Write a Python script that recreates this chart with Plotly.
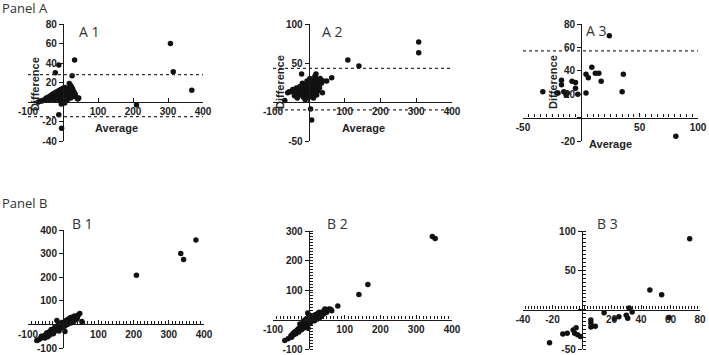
import plotly.graph_objects as go

W, H = 709, 355

# ---------------- data ----------------
a1_x = [-70, -65, -60, -55, -50, -48, -45, -42, -40, -38, -35, -33, -30, -30, -28, -25, -25, -22,
        -20, -20, -18, -15, -15, -12, -10, -10, -8, -6, -5, -5, -3, 0, 0, 0, 2, 3, 5, 5, 7, 8, 10,
        10, 12, 13, 15, 15, 17, 18, 20, 22, 22, 25, 25, 28, 30, 32, 35, 38, 42, 45, -5, 5,
        -12, -22, 33, 26, 210, 307, 315, 368, -12, -4]
a1_y = [0, 1, 1, 2, 2, 4, 3, 5, 2, 6, 4, 7, 3, 8, 5, 9, 2, 6,
        10, 3, 7, 11, 4, 8, 12, 2, 6, 10, 13, 3, 8, 14, 5, 1, 11, 7, 15, 3, 9, 12, 6,
        14, 2, 10, 13, 5, 8, 19, 11, 17, 4, 15, 8, 13, 6, 10, 8, 5, 3, 4, -2, -1,
        38, 30, 43, 27, -3, 60, 31, 12, -13, -27]
a1_limits = [28, -15]

a2_x = [-67, -59, -55, -50, -45, -40, -38, -35, -32, -30, -28, -25, -22, -20, -18, -15, -15, -12,
        -10, -10, -8, -5, -5, -3, 0, 0, 2, 3, 5, 5, 7, 8, 10, 10, 12, 13, 15, 15, 17, 18, 20, 22,
        23, 25, 28, 30, 32, 35, 38, 40, 50, 64, -20, 20,
        109, 140, 307, 307, 5, 8]
a2_y = [2, 12, 13, 13, 16, 8, 13, 18, 5, 11, 15, 20, 9, 14, 24, 6, 18, 12,
        22, 3, 16, 27, 10, 19, 14, 6, 24, 30, 11, 18, 8, 22, 14, 28, 19, 5, 25, 12, 33, 17, 30, 9,
        22, 14, 26, 18, 30, 24, 12, 27, 27, 31, 36, 36,
        54, 46, 77, 63, -9, -23]
a2_limits = [43, -10]

a3_x = [-33, -21, -20, -17, -17, -15, -13, -12, -8, -5, -5, -3, 4, 4, 6, 9, 12, 15, 17, 24, 35, 36, 81]
a3_y = [22, 21, 21, 32, 28, 22, 19, 21, 31, 30, 25, 20, 21, 37, 34, 43, 38, 38, 31, 70, 22, 37, -16]
a3_limits = [57]

b1_x = [-75, -70, -65, -60, -58, -55, -50, -48, -45, -42, -40, -38, -35, -32, -30, -28, -25, -22,
        -20, -18, -15, -12, -10, -8, -5, -3, 0, 2, 5, 8, 10, 12, 15, 18, 20, 22, 25, 28, 30, 33,
        35, 38, 40, 43, 47, -18, 53, 5, -12, 208, 334, 342, 377,
        -62, -52, -46, -38, -34, -26, -24, -16, -14, -6, -4, 4, 6, 12, 14, 22, 24, 30, 32, 38,
        40, 20, -28, -44, 10, 26]
b1_y = [-68, -65, -60, -55, -50, -52, -45, -40, -42, -38, -35, -30, -33, -28, -25, -22, -24, -18,
        -15, -20, -12, -10, -5, -8, -3, 0, 2, -2, 5, 3, 8, 10, 12, 14, 18, 15, 20, 24, 22, 28,
        30, 32, 35, 40, 46, 17, 12, -30, -28, 208, 300, 275, 358,
        -50, -58, -35, -45, -22, -32, -12, -25, -2, -15, 8, -8, 14, 0, 22, 6, 30, 12, 36, 22,
        28, 28, -40, -52, 18, 14]

b2_x = [-67, -58, -50, -45, -42, -40, -38, -35, -32, -30, -28, -25, -22, -20, -18, -15, -12, -10,
        -8, -5, -3, 0, 2, 5, 8, 10, 12, 15, 18, 20, 22, 25, 28, 30, 35, 40, 45, 45, 50, 59, 64, 81,
        -3, 0, 140, 165, 345, 353,
        -48, -36, -28, -20, -12, -6, -2, 4, 8, 12, 16, 24, 32, 38, 42, 48, 55, 26, 18, -8, -15,
        -25, 5, 30, 62]
b2_y = [-71, -65, -55, -48, -52, -42, -45, -38, -40, -32, -35, -28, -30, -22, -25, -18, -20, -12,
        -15, -8, -10, -3, -5, 0, 2, 5, -2, 8, 4, 10, 6, 12, 8, 15, 12, 18, 22, 36, 25, 36, 30, 46,
        22, 15, 85, 119, 281, 275,
        -60, -48, -42, -35, -28, -22, -30, -12, -6, 6, -4, 2, 8, 20, 30, 30, 35, 22, 16, 2, -5,
        -15, 10, 25, 33]

b3_x = [-22, -13, -10, -6, -4, -5, -3, -1, 6, 6, 6, 9, 15, 22, 25, 30, 31, 32, 34, 46, 54, 59, 73]
b3_y = [-42, -31, -30, -26, -23, -30, -32, -34, -13, -17, -22, -21, -4, -12, -9, -7, -11, 2, -3, 25, 19, -10, 90]

panel_labels = ["A 1", "A 2", "A 3", "B 1", "B 2", "B 3"]
row_labels = ["Panel A", "Panel B"]
x_title = "Average"
y_title = "Difference"

# ---------------- layout / style ----------------
panels = [
    dict(x=a1_x, y=a1_y, xr=[-100, 400], yr=[-40, 80], px=[28, 203], py=[24, 141],
         xt=[-100, 0, 100, 200, 300, 400], yt=[-40, -20, 0, 20, 40, 60, 80],
         xminor=None, yminor=None, titles=((116, 128), (35, 84)), limits=a1_limits, lab=(89, 32)),
    dict(x=a2_x, y=a2_y, xr=[-100, 400], yr=[-50, 100], px=[273, 452], py=[24, 141],
         xt=[-100, 0, 100, 200, 300, 400], yt=[-50, 0, 50, 100],
         xminor=None, yminor=None, titles=((363, 128), (280, 82)), limits=a2_limits, lab=(332, 32)),
    dict(x=a3_x, y=a3_y, xr=[-50, 100], yr=[-20, 80], px=[523, 698], py=[24, 141],
         xt=[-50, 0, 50, 100], yt=[-20, 0, 20, 40, 60, 80],
         xminor=5, yminor=None, titles=((610, 144), (553, 82)), limits=a3_limits, lab=(596, 31)),
    dict(x=b1_x, y=b1_y, xr=[-100, 400], yr=[-100, 400], px=[28, 204], py=[230, 348],
         xt=[-100, 0, 100, 200, 300, 400], yt=[-100, 0, 100, 200, 300, 400],
         xminor=10, yminor=None, titles=None, limits=[], lab=(82, 223)),
    dict(x=b2_x, y=b2_y, xr=[-100, 400], yr=[-100, 300], px=[273, 452], py=[231, 349],
         xt=[-100, 0, 100, 200, 300, 400], yt=[-100, 0, 100, 200, 300],
         xminor=10, yminor=10, titles=None, limits=[], lab=(337, 223)),
    dict(x=b3_x, y=b3_y, xr=[-40, 80], yr=[-50, 100], px=[523, 700], py=[231, 349],
         xt=[-40, -20, 0, 20, 40, 60, 80], yt=[-50, 0, 50, 100],
         xminor=2, yminor=5, titles=None, limits=[], lab=(607, 223)),
]

AX = "#1a1a1a"
tickfont = dict(family="Liberation Sans, Arial, sans-serif", size=10, color="#222", weight="bold")
titlefont = dict(family="Liberation Sans, Arial, sans-serif", size=11, color="#222", weight="bold")

fig = go.Figure()
layout = dict(width=W, height=H, margin=dict(l=0, r=0, t=0, b=0, autoexpand=False),
              paper_bgcolor="white", plot_bgcolor="white", showlegend=False)
shapes, annotations = [], []

for i, p in enumerate(panels):
    k = "" if i == 0 else str(i + 1)
    xr0, xr1 = p["xr"]
    yr0, yr1 = p["yr"]
    px0, px1 = p["px"]
    py0, py1 = p["py"]
    y_zero_px = py0 + (yr1 - 0) / (yr1 - yr0) * (py1 - py0)
    x_zero_px = px0 + (0 - xr0) / (xr1 - xr0) * (px1 - px0)

    fig.add_trace(go.Scatter(x=p["x"], y=p["y"], mode="markers", xaxis="x" + k, yaxis="y" + k,
                             marker=dict(size=5.5, color="#111"), cliponaxis=False,
                             hoverinfo="x+y"))

    xa = dict(domain=[px0 / W, px1 / W], range=p["xr"], anchor="free", automargin=False,
              position=1 - y_zero_px / H, showline=True, linecolor=AX, linewidth=1.4,
              ticks="inside", ticklen=4, tickwidth=1.3, tickcolor=AX,
              tickmode="array", tickvals=p["xt"],
              ticktext=["" if v == 0 else str(v) for v in p["xt"]],
              showgrid=False, zeroline=False, tickfont=tickfont, fixedrange=True)
    ya = dict(domain=[1 - py1 / H, 1 - py0 / H], range=p["yr"], anchor="free", automargin=False,
              position=x_zero_px / W, showline=True, linecolor=AX, linewidth=1.4,
              ticks="outside", ticklen=4, tickwidth=1.3, tickcolor=AX,
              tickmode="array", tickvals=p["yt"],
              ticktext=["" if v == 0 else str(v) for v in p["yt"]],
              showgrid=False, zeroline=False, tickfont=tickfont, fixedrange=True)
    if p["xminor"]:
        xa["minor"] = dict(tickmode="linear", tick0=0, dtick=p["xminor"], ticks="inside",
                           ticklen=3, tickwidth=1, tickcolor=AX, showgrid=False)
    if p["yminor"]:
        # minor ticks on a free y axis flip side; "inside" puts them on the left like the major ticks
        ya["minor"] = dict(tickmode="linear", tick0=0, dtick=p["yminor"], ticks="inside",
                           ticklen=3, tickwidth=1, tickcolor=AX, showgrid=False)
    layout["xaxis" + k] = xa
    layout["yaxis" + k] = ya

    if p["titles"]:
        (tx, ty), (sx, sy) = p["titles"]
        annotations.append(dict(text=x_title, x=tx / W, y=1 - ty / H, xref="paper", yref="paper",
                                showarrow=False, xanchor="center", yanchor="middle", font=titlefont))
        annotations.append(dict(text=y_title, x=sx / W, y=1 - sy / H, xref="paper", yref="paper",
                                showarrow=False, xanchor="center", yanchor="middle", textangle=-90,
                                font=titlefont))

    for lim in p["limits"]:
        shapes.append(dict(type="line", xref="x" + k + " domain", yref="y" + k,
                           x0=0, x1=1, y0=lim, y1=lim,
                           line=dict(color="#333", width=1.2, dash="dot")))

    lx, ly = p["lab"]
    annotations.append(dict(text=panel_labels[i], x=lx / W, y=1 - ly / H, xref="paper", yref="paper",
                            showarrow=False, xanchor="center", yanchor="middle",
                            font=dict(family="Open Sans, sans-serif", size=14, color="#333")))

for txt, yy in zip(row_labels, [8, 203]):
    annotations.append(dict(text=txt, x=0, y=1 - yy / H, xref="paper", yref="paper",
                            showarrow=False, xanchor="left", yanchor="middle",
                            font=dict(family="Open Sans, sans-serif", size=13, color="#333")))

layout["shapes"] = shapes
layout["annotations"] = annotations
fig.update_layout(**layout)
fig.write_html("out.html", config={"displayModeBar": False},
               post_script="document.body.style.margin='0';document.body.style.overflow='hidden';")
